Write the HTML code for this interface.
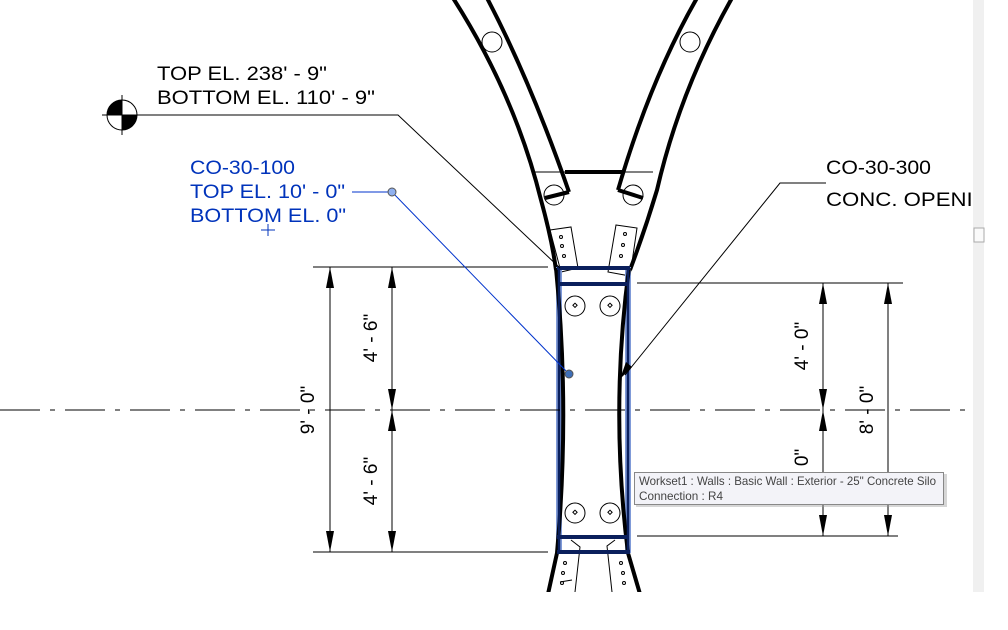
<!DOCTYPE html>
<html><head><meta charset="utf-8"><style>
html,body{margin:0;padding:0;background:#fff;}
svg{display:block;}
text{font-family:"Liberation Sans",Arial,sans-serif;}
</style></head><body>
<svg width="1008" height="630" viewBox="0 0 1008 630" xmlns="http://www.w3.org/2000/svg">
<defs><clipPath id="c"><rect x="0" y="0" width="973" height="592"/></clipPath></defs>
<rect width="1008" height="630" fill="#fff"/>
<g clip-path="url(#c)">
<g fill="none" stroke="#000" stroke-width="4">
<path d="M453,-2 Q515,95 541,200 Q552,240 556,270"/>
<path d="M487,-2 Q530,80 569,192"/>
<path d="M732,-2 Q680,90 657,190 Q645,230 630,270"/>
<path d="M697,-2 Q650,80 618,190"/>
<path d="M569,192 L545,198"/>
<path d="M618,190 L643,198"/>
</g>
<line x1="534" y1="172" x2="653" y2="172" stroke="#000" stroke-width="1"/>
<line x1="565" y1="172" x2="622" y2="172" stroke="#000" stroke-width="4"/>
<g fill="none" stroke="#000" stroke-width="1">
<circle cx="492" cy="42" r="10"/><circle cx="690" cy="42" r="10"/>
<circle cx="554" cy="195" r="10"/><circle cx="633" cy="195" r="10"/>
<path d="M550,230 L571,227 L578,268 L561,272 Z"/>
<path d="M616,225 L637,228 L630,276 L608,272 Z"/>
<circle cx="575" cy="306" r="10"/><circle cx="610" cy="306" r="10"/>
<circle cx="575" cy="513" r="10"/><circle cx="610" cy="513" r="10"/>
<path d="M571,540 L580,547 L575,592"/>
<path d="M615,540 L607,546 L612,592"/>
<path d="M560,582 L572,580"/>
</g>
<g fill="none" stroke="#000" stroke-width="1">
<circle cx="561" cy="237" r="1.5"/><circle cx="562" cy="246" r="1.5"/><circle cx="564" cy="256" r="1.5"/>
<circle cx="625" cy="234" r="1.5"/><circle cx="623" cy="245" r="1.5"/><circle cx="621" cy="256" r="1.5"/>
<circle cx="565" cy="563" r="1.5"/><circle cx="563" cy="573" r="1.5"/><circle cx="562" cy="583" r="1.5"/>
<circle cx="621" cy="563" r="1.5"/><circle cx="623" cy="573" r="1.5"/><circle cx="624" cy="583" r="1.5"/>
<rect x="573" y="304" width="3" height="3" transform="rotate(45 575 306)"/><rect x="608" y="304" width="3" height="3" transform="rotate(45 610 306)"/>
<rect x="573" y="511" width="3" height="3" transform="rotate(45 575 513)"/><rect x="608" y="511" width="3" height="3" transform="rotate(45 610 513)"/>
</g>
<rect x="556" y="267" width="6" height="286" fill="#7f9ad8"/>
<rect x="625" y="267" width="6" height="286" fill="#7f9ad8"/>
<g fill="none" stroke="#000" stroke-width="4">
<path d="M556,268 Q570,410 557,553 L548,594"/>
<path d="M629,268 Q610,410 628,553 L640,594"/>
</g>
<g fill="none" stroke="#0a1f5c" stroke-width="4">
<line x1="557" y1="268" x2="630" y2="268"/>
<line x1="558" y1="284" x2="629" y2="284"/>
<line x1="557" y1="537" x2="629" y2="537"/>
<line x1="557" y1="552" x2="630" y2="552"/>
</g>
<g fill="none" stroke="#0a1f5c" stroke-width="2.5">
<line x1="559" y1="268" x2="559" y2="552"/>
<line x1="628" y1="268" x2="628" y2="552"/>
</g>
<line x1="0" y1="410" x2="973" y2="410" stroke="#000" stroke-width="1" stroke-dasharray="40,10,5,10"/>
<g stroke="#000" stroke-width="1" fill="none">
<line x1="313" y1="267" x2="548" y2="267"/>
<line x1="313" y1="552" x2="548" y2="552"/>
<line x1="330" y1="267" x2="330" y2="552"/>
<line x1="392" y1="267" x2="392" y2="552"/>
<line x1="637" y1="283" x2="903" y2="283"/>
<line x1="637" y1="536" x2="898" y2="536"/>
<line x1="823" y1="283" x2="823" y2="536"/>
<line x1="888" y1="283" x2="888" y2="536"/>
</g>
<g fill="#000">
<path d="M330,267 l-4,21 h8z"/><path d="M330,552 l-4,-21 h8z"/>
<path d="M392,267 l-4,21 h8z"/><path d="M392,410 l-4,-21 h8z"/><path d="M392,410 l-4,21 h8z"/><path d="M392,552 l-4,-21 h8z"/>
<path d="M823,283 l-4,21 h8z"/><path d="M823,410 l-4,-21 h8z"/><path d="M823,410 l-4,21 h8z"/><path d="M823,536 l-4,-21 h8z"/>
<path d="M888,283 l-4,21 h8z"/><path d="M888,536 l-4,-21 h8z"/>
</g>
<g font-size="19" fill="#000">
<text transform="translate(314,410) rotate(-90)" text-anchor="middle">9' - 0"</text>
<text transform="translate(377,338) rotate(-90)" text-anchor="middle">4' - 6"</text>
<text transform="translate(377,481) rotate(-90)" text-anchor="middle">4' - 6"</text>
<text transform="translate(808,346) rotate(-90)" text-anchor="middle">4' - 0"</text>
<text transform="translate(808,473) rotate(-90)" text-anchor="middle">4' - 0"</text>
<text transform="translate(873,410) rotate(-90)" text-anchor="middle">8' - 0"</text>
</g>
<polyline points="130,115 398,115 560,268" fill="none" stroke="#000" stroke-width="1"/>
<polyline points="826,183 780,183 625,375" fill="none" stroke="#000" stroke-width="1"/>
<path d="M620,379 l6,-17 l6,5z" fill="#000"/>
<polyline points="352,192 392,192 569,374" fill="none" stroke="#0033cc" stroke-width="1"/>
<circle cx="392" cy="192" r="4" fill="#8fb0f0" stroke="#555" stroke-width="1"/>
<circle cx="569" cy="374" r="4" fill="#3f6fb8" stroke="#555" stroke-width="1"/>
<circle cx="122" cy="115" r="15" fill="#fff" stroke="#000" stroke-width="1"/>
<path d="M122,115 L122,100 A15,15 0 0 0 107,115Z M122,115 L122,130 A15,15 0 0 0 137,115Z" fill="#000"/>
<line x1="102" y1="115" x2="142" y2="115" stroke="#000"/><line x1="122" y1="95" x2="122" y2="135" stroke="#000"/>
<g font-size="19" fill="#000">
<text x="157" y="80" textLength="170" lengthAdjust="spacingAndGlyphs">TOP EL. 238' - 9"</text>
<text x="157" y="104" textLength="218" lengthAdjust="spacingAndGlyphs">BOTTOM EL. 110' - 9"</text>
<text x="826" y="174" textLength="105" lengthAdjust="spacingAndGlyphs">CO-30-300</text>
<text x="826" y="206" textLength="180" lengthAdjust="spacingAndGlyphs">CONC. OPENING</text>
</g>
<g font-size="19" fill="#0033bb">
<text x="190" y="174" textLength="105" lengthAdjust="spacingAndGlyphs">CO-30-100</text>
<text x="190" y="198" textLength="155" lengthAdjust="spacingAndGlyphs">TOP EL. 10' - 0"</text>
<text x="190" y="222" textLength="156" lengthAdjust="spacingAndGlyphs">BOTTOM EL. 0"</text>
</g>
<g stroke="#0033bb" stroke-width="1" fill="#0033bb">
<line x1="268" y1="224" x2="268" y2="236"/><line x1="261" y1="230" x2="275" y2="230"/>
</g>
<rect x="636" y="474" width="311" height="33" fill="#999" opacity="0.4"/>
<rect x="634.5" y="472.5" width="309" height="32" fill="#f3f3f8" stroke="#888"/>
<text x="639" y="485" font-size="12" fill="#444" textLength="297" lengthAdjust="spacingAndGlyphs">Workset1 : Walls : Basic Wall : Exterior - 25" Concrete Silo</text>
<text x="639" y="500" font-size="12" fill="#444" textLength="84" lengthAdjust="spacingAndGlyphs">Connection : R4</text>
</g>
<rect x="973" y="0" width="11" height="592" fill="#f0f0f0"/>
<rect x="974" y="228" width="10" height="14" fill="#fafafa" stroke="#aaa"/>
</svg>
</body></html>
